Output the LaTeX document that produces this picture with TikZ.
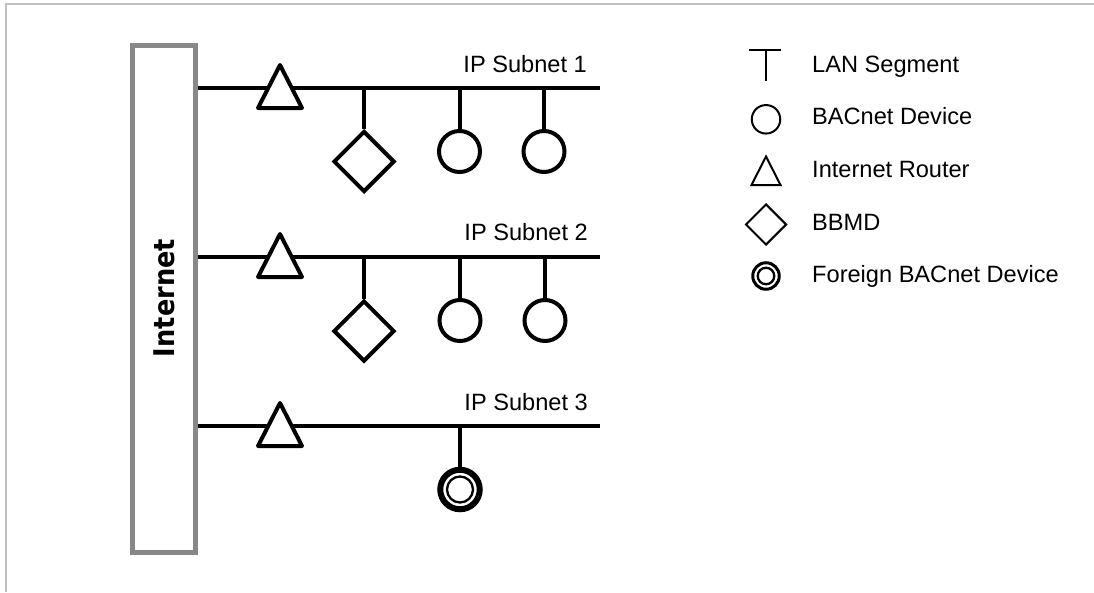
\documentclass[tikz,border=0pt]{standalone}
\usepackage{fontspec}
\setmainfont{Liberation Sans}
\newfontfamily\inetfont{DejaVu Sans Condensed}
\usetikzlibrary{shapes.geometric}
\definecolor{framegray}{HTML}{C0C0C0}
\definecolor{boxgray}{HTML}{888888}
\begin{document}
\begin{tikzpicture}[x=1pt,y=-1pt,
  lan/.style={line width=4pt, line cap=butt},
  dev/.style={circle, draw, line width=4pt, fill=white, minimum size=41pt, inner sep=0pt},
  bbmd/.style={diamond, draw, line width=4pt, fill=white, minimum size=61pt, inner sep=0pt},
  foreignouter/.style={circle, draw, line width=6pt, fill=white, minimum size=39.5pt, inner sep=0pt},
  foreigninner/.style={circle, draw, line width=2.3pt, minimum size=26pt, inner sep=0pt},
  router/.style={draw, line width=4pt, fill=white, line join=round},
  lbl/.style={font=\fontsize{23.6}{27}\selectfont, inner sep=0pt},
  legline/.style={line width=2pt},
  legdev/.style={circle, draw, line width=2pt, minimum size=28.5pt, inner sep=0pt},
  legbbmd/.style={diamond, draw, line width=2pt, minimum size=41pt, inner sep=0pt},
  legfouter/.style={circle, draw, line width=3pt, minimum size=26.5pt, inner sep=0pt},
  legfinner/.style={circle, draw, line width=2.3pt, minimum size=16.5pt, inner sep=0pt},
]
\useasboundingbox (0,0) rectangle (1094,592);
% frame
\draw[framegray, line width=2pt] (6,592) -- (6,4.3) -- (1094,4.3);

% Internet box
\node[draw=boxgray, line width=5pt, minimum width=63pt, minimum height=507.5pt, inner sep=0pt] (inet) at (163.5,298.75) {};
\node[rotate=90, font=\inetfont\bfseries\fontsize{28.5}{32}\selectfont, inner sep=0pt] (inettext) at (164.5,298) {Internet};

% subnet lines
\coordinate (s1) at (600,88);
\coordinate (s2) at (600,257);
\coordinate (s3) at (600,426);
\draw[lan] (s1 -| inet.east) -- (s1);
\draw[lan] (s2 -| inet.east) -- (s2);
\draw[lan] (s3 -| inet.east) -- (s3);

% routers
\draw[router] (280,65) -- (302,108) -- (258,108) -- cycle;
\draw[router] (280,234) -- (302,277) -- (258,277) -- cycle;
\draw[router] (280,403) -- (302,446) -- (258,446) -- cycle;

% subnet 1 devices
\node[bbmd] (b1) at (364,161.5) {};
\node[dev] (d11) at (459.5,151.5) {};
\node[dev] (d12) at (544,151.5) {};
\draw[lan] (b1.north |- s1) -- (b1.north);
\draw[lan] (d11.north |- s1) -- (d11.north);
\draw[lan] (d12.north |- s1) -- (d12.north);

% subnet 2 devices
\node[bbmd] (b2) at (364,331) {};
\node[dev] (d21) at (460,320.5) {};
\node[dev] (d22) at (545,320.5) {};
\draw[lan] (b2.north |- s2) -- (b2.north);
\draw[lan] (d21.north |- s2) -- (d21.north);
\draw[lan] (d22.north |- s2) -- (d22.north);

% subnet 3 foreign device
\node[foreignouter] (f3) at (460,489.5) {};
\node[foreigninner] (f3i) at (f3.center) {};
\draw[lan] (f3.north |- s3) -- (f3.north);

% subnet labels
\node[lbl, anchor=base east] (t1) at (587,72) {IP Subnet 1};
\node[lbl, anchor=base east] (t2) at (588,240.7) {IP Subnet 2};
\node[lbl, anchor=base east] (t3) at (588,410) {IP Subnet 3};

% legend
\coordinate (lt) at (766,50);
\draw[legline] (749,50) -- (781,50);
\draw[legline] (lt) -- (766,81);
\node[legdev] (lc) at (766,119.3) {};
\draw[legline, line join=miter] (766,156.5) -- (780.5,185) -- (751.5,185) -- cycle;
\node[legbbmd] (ld) at (766,224.5) {};
\node[legfouter] (lf) at (766,276) {};
\node[legfinner] (lfi) at (lf.center) {};

\node[lbl, anchor=base west] (l1) at (812,72.3) {LAN Segment};
\node[lbl, anchor=base west] (l2) at (812,124.3) {BACnet Device};
\node[lbl, anchor=base west] (l3) at (812,177.3) {Internet Router};
\node[lbl, anchor=base west] (l4) at (812,230.7) {BBMD};
\node[lbl, anchor=base west] (l5) at (812,282.3) {Foreign BACnet Device};
\end{tikzpicture}
\end{document}
